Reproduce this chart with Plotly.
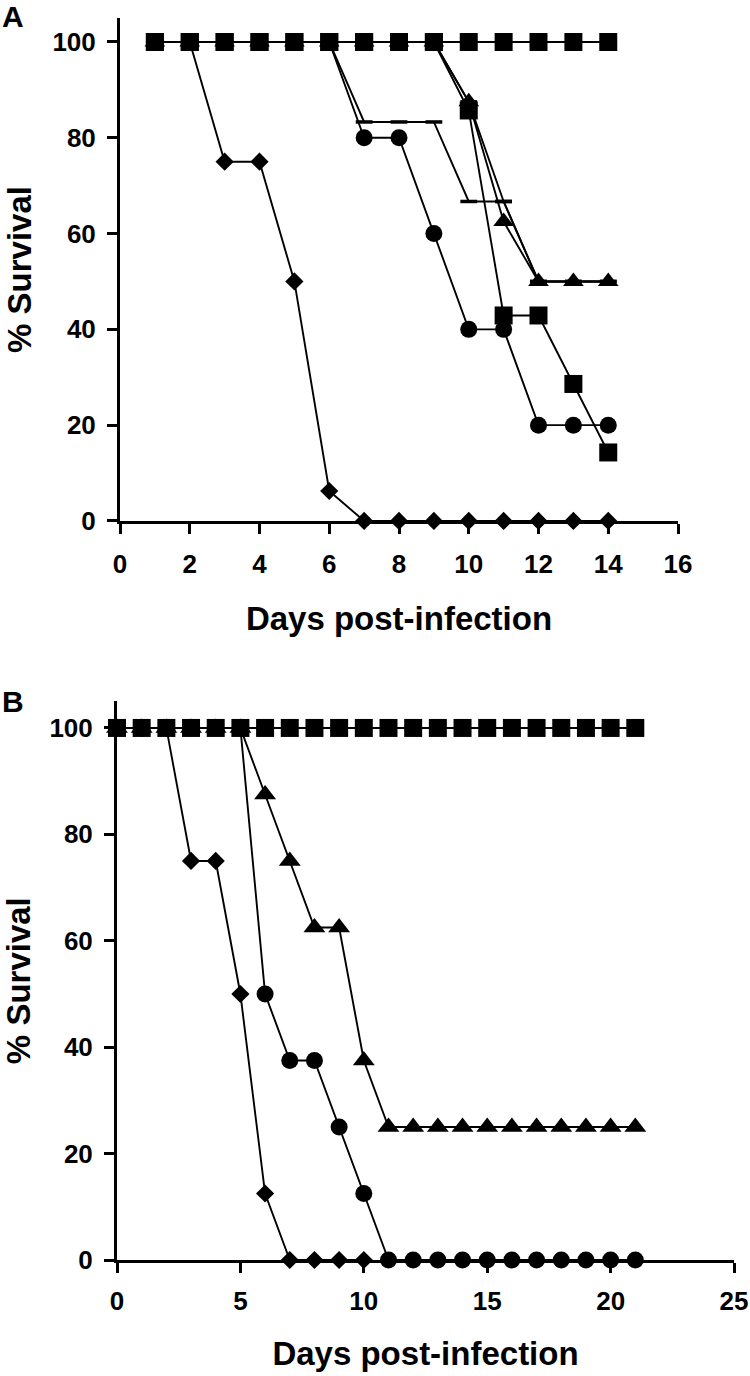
import plotly.graph_objects as go

# ---------------- Panel A data ----------------
days_a = [1, 2, 3, 4, 5, 6, 7, 8, 9, 10, 11, 12, 13, 14]
a_control = [100, 100, 100, 100, 100, 100, 100, 100, 100, 100, 100, 100, 100, 100]
a_diamond = [100, 100, 75, 75, 50, 6.25, 0, 0, 0, 0, 0, 0, 0, 0]
a_circle = [100, 100, 100, 100, 100, 100, 80, 80, 60, 40, 40, 20, 20, 20]
a_dash = [100, 100, 100, 100, 100, 100, 83.3, 83.3, 83.3, 66.7, 66.7, 50, 50, 50]
a_dash2 = [100, 100, 100, 100, 100, 100, 100, 100, 100, 87.5, 66.7, 50, 50, 50]
a_triangle = [100, 100, 100, 100, 100, 100, 100, 100, 100, 87.5, 62.5, 50, 50, 50]
a_square = [100, 100, 100, 100, 100, 100, 100, 100, 100, 85.7, 42.9, 42.9, 28.6, 14.3]

# ---------------- Panel B data ----------------
days_b = [0, 1, 2, 3, 4, 5, 6, 7, 8, 9, 10, 11, 12, 13, 14, 15, 16, 17, 18, 19, 20, 21]
days_b_diamond = [0, 1, 2, 3, 4, 5, 6, 7, 8, 9, 10]
b_control = [100, 100, 100, 100, 100, 100, 100, 100, 100, 100, 100,
             100, 100, 100, 100, 100, 100, 100, 100, 100, 100, 100]
b_diamond = [100, 100, 100, 75, 75, 50, 12.5, 0, 0, 0, 0]
b_circle = [100, 100, 100, 100, 100, 100, 50, 37.5, 37.5, 25, 12.5,
            0, 0, 0, 0, 0, 0, 0, 0, 0, 0, 0]
b_triangle = [100, 100, 100, 100, 100, 100, 87.5, 75, 62.5, 62.5, 37.5,
              25, 25, 25, 25, 25, 25, 25, 25, 25, 25, 25]

y_ticks = [0, 20, 40, 60, 80, 100]
x_ticks_a = [0, 2, 4, 6, 8, 10, 12, 14, 16]
x_ticks_b = [0, 5, 10, 15, 20, 25]

FONT = "Liberation Sans, Arial, sans-serif"
LW = 1.9

fig = go.Figure()


def add(x, y, symbol, size, xa, ya, open_sym=False):
    marker = dict(symbol=symbol, size=size, color="black")
    if open_sym:
        marker["line"] = dict(color="black", width=3.5)
    else:
        marker["line"] = dict(width=0)
    fig.add_trace(go.Scatter(x=x, y=y, mode="lines+markers",
                             line=dict(color="black", width=LW),
                             marker=marker, xaxis=xa, yaxis=ya,
                             cliponaxis=False, showlegend=False))


# Panel A traces (draw order: bottom first)
add(days_a, a_diamond, "diamond", 14, "x", "y")
add(days_a, a_circle, "circle", 17, "x", "y")
add(days_a, a_dash2, "line-ew", 12, "x", "y", open_sym=True)
add(days_a, a_dash, "line-ew", 12, "x", "y", open_sym=True)
add(days_a, a_triangle, "triangle-up", 18, "x", "y")
add(days_a, a_square, "square", 18, "x", "y")
add(days_a, a_control, "square", 18, "x", "y")

# Panel B traces
add(days_b_diamond, b_diamond, "diamond", 14, "x2", "y2")
add(days_b, b_circle, "circle", 17, "x2", "y2")
add(days_b, b_triangle, "triangle-up", 19, "x2", "y2")
add(days_b, b_control, "square", 18, "x2", "y2")

common = dict(showline=True, linecolor="black", linewidth=3,
              ticks="outside", ticklen=10, tickwidth=3, tickcolor="black",
              showgrid=False, zeroline=False, automargin=False,
              tickfont=dict(family=FONT, size=26, color="black", weight="bold"))

title_font = dict(family=FONT, size=33, color="black", weight="bold")

fig.update_layout(
    template="none",
    width=750, height=1376,
    margin=dict(l=0, r=0, t=0, b=0),
    paper_bgcolor="white", plot_bgcolor="white",
    xaxis=dict(domain=[0.16, 0.904], range=[0, 16], tickvals=x_ticks_a,
               anchor="y", ticklabelstandoff=8,
               title=dict(text="Days post-infection", font=title_font, standoff=29),
               **common),
    yaxis=dict(domain=[0.6214, 0.9869], range=[0, 105], tickvals=y_ticks,
               anchor="x", ticklabelstandoff=6,
               title=dict(text="% Survival", font=title_font, standoff=11),
               **common),
    xaxis2=dict(domain=[0.156, 0.9787], range=[0, 25], tickvals=x_ticks_b,
                anchor="y2", ticklabelstandoff=6,
                title=dict(text="Days post-infection", font=title_font, standoff=27),
                **common),
    yaxis2=dict(domain=[0.0843, 0.4903], range=[0, 105], tickvals=y_ticks,
                anchor="x2", ticklabelstandoff=6,
                title=dict(text="% Survival", font=title_font, standoff=11),
                **common),
    annotations=[
        dict(text="A", x=0, y=1 - 17 / 1376, xref="paper", yref="paper", showarrow=False,
             xanchor="left", yanchor="middle",
             font=dict(family=FONT, size=30, color="black", weight="bold")),
        dict(text="B", x=0, y=1 - 701 / 1376, xref="paper", yref="paper", showarrow=False,
             xanchor="left", yanchor="middle",
             font=dict(family=FONT, size=30, color="black", weight="bold")),
    ],
)

fig.write_html("out.html",
               config={"displayModeBar": False},
               post_script="document.body.style.margin='0';"
                           "document.body.style.overflow='hidden';")
